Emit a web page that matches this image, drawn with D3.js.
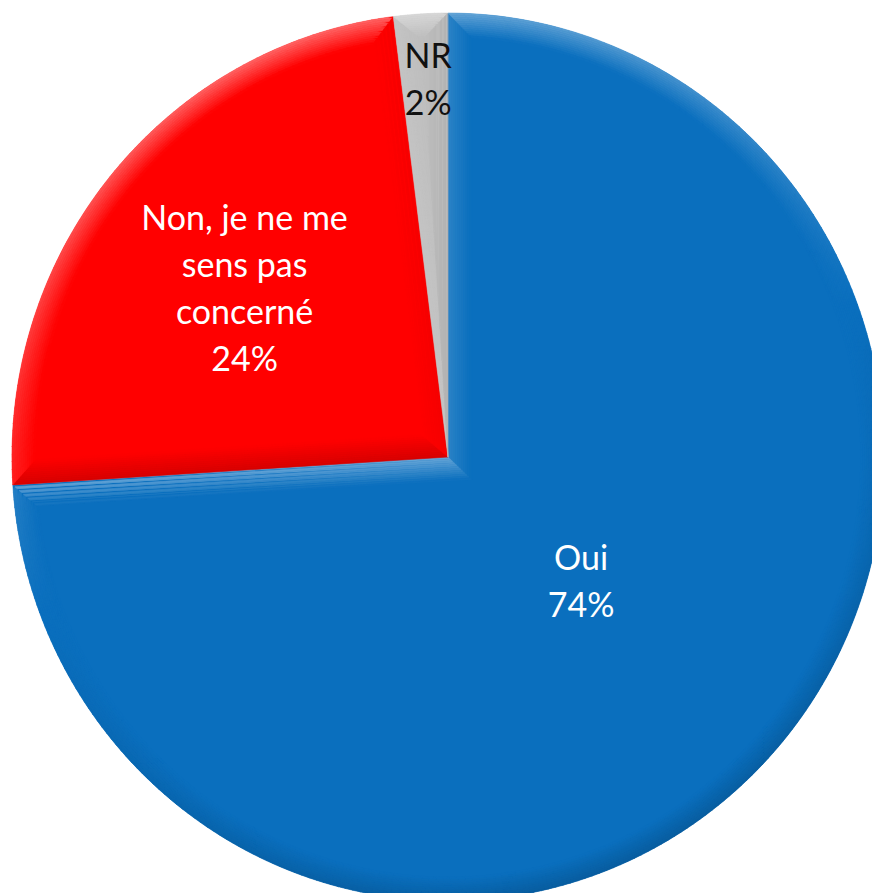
<!DOCTYPE html>
<html><head><meta charset="utf-8">
<script src="https://cdn.jsdelivr.net/npm/d3@7"></script>
<style>html,body{margin:0;padding:0;background:#fff;overflow:hidden}</style>
</head><body>
<svg id="c" width="872" height="893"></svg>
<script>
const categories = ["Oui", "Non, je ne me sens pas concerné", "NR"];
const values = [74, 24, 2];
const labelLines = [["Oui", "74%"], ["Non, je ne me", "sens pas", "concerné", "24%"], ["NR", "2%"]];
const colors = ["#0A6FBE", "#FF0000", "#BEBEBE"];
const textColors = ["#ffffff", "#ffffff", "#111111"];

const cx = 448, cy = 457, R = 440;
const labelR = [0.415, 0.60, 0.86];
const bevelW = 24, nBands = 12;
const lightDir = [-0.35, -0.94]; // light coming from top, slightly left

const svg = d3.select("#c");
const pie = d3.pie().sort(null).value(d => d).startAngle(0).endAngle(2 * Math.PI);
const arcs = pie(values);
const arc = d3.arc().innerRadius(0).outerRadius(R);

const g = svg.append("g").attr("transform", `translate(${cx},${cy}) scale(0.991,1.009)`);
g.selectAll("path.slice").data(arcs).join("path").attr("class", "slice")
  .attr("d", arc)
  .attr("fill", (d, i) => colors[i]);

function insetPoly(a0, a1, d) {
  const pts = [];
  const delta = a1 - a0;
  const mid = (a0 + a1) / 2;
  const cd = d === 0 ? 0 : d / Math.sin(delta / 2);
  pts.push([Math.sin(mid) * cd, -Math.cos(mid) * cd]);
  const rho = R - d;
  const off = Math.asin(Math.min(1, d / rho));
  const b0 = a0 + off, b1 = a1 - off;
  const N = Math.max(4, Math.ceil((b1 - b0) / (Math.PI / 180)));
  for (let i = 0; i <= N; i++) {
    const a = b0 + (b1 - b0) * i / N;
    pts.push([Math.sin(a) * rho, -Math.cos(a) * rho]);
  }
  return pts;
}
const bev = g.append("g");
arcs.forEach((d, si) => {
  const base = d3.rgb(colors[si]);
  const polys = [];
  for (let k = 0; k <= nBands; k++) polys.push(insetPoly(d.startAngle, d.endAngle, bevelW * k / nBands));
  for (let k = 0; k < nBands; k++) {
    const P = polys[k], Q = polys[k + 1];
    const fall = 1 - (k + 0.5) / nBands;
    const n = P.length;
    for (let i = 0; i < n; i++) {
      const j = (i + 1) % n;
      const ex = P[j][0] - P[i][0], ey = P[j][1] - P[i][1];
      const len = Math.hypot(ex, ey) || 1;
      const nx = ey / len, ny = -ex / len; // outward normal
      const dot = nx * lightDir[0] + ny * lightDir[1];
      let c;
      if (dot > 0) c = d3.interpolateRgb(base, "#ffffff")(0.4 * dot * fall);
      else c = d3.interpolateRgb(base, "#000000")(0.17 * -dot * fall);
      bev.append("path")
        .attr("d", `M${P[i]}L${P[j]}L${Q[j]}L${Q[i]}Z`)
        .attr("fill", c).attr("stroke", c).attr("stroke-width", 0.6);
    }
  }
});

const lg = svg.append("g").attr("transform", `translate(${cx},${cy})`);
const fs = 34, lh = 47;
arcs.forEach((d, i) => {
  const a = (d.startAngle + d.endAngle) / 2;
  const r = R * labelR[i];
  const x = Math.sin(a) * r + (i === 2 ? 4 : 0), y = -Math.cos(a) * r;
  const lines = labelLines[i];
  const t = lg.append("text")
    .attr("text-anchor", "middle")
    .attr("font-family", "Lato, 'Open Sans', sans-serif")
    .attr("font-size", fs)
    .attr("fill", textColors[i]);
  lines.forEach((s, k) => {
    t.append("tspan").attr("x", x)
      .attr("y", y + (k - (lines.length - 1) / 2) * lh)
      .attr("dy", "0.35em").text(s);
  });
});
</script>
</body></html>
